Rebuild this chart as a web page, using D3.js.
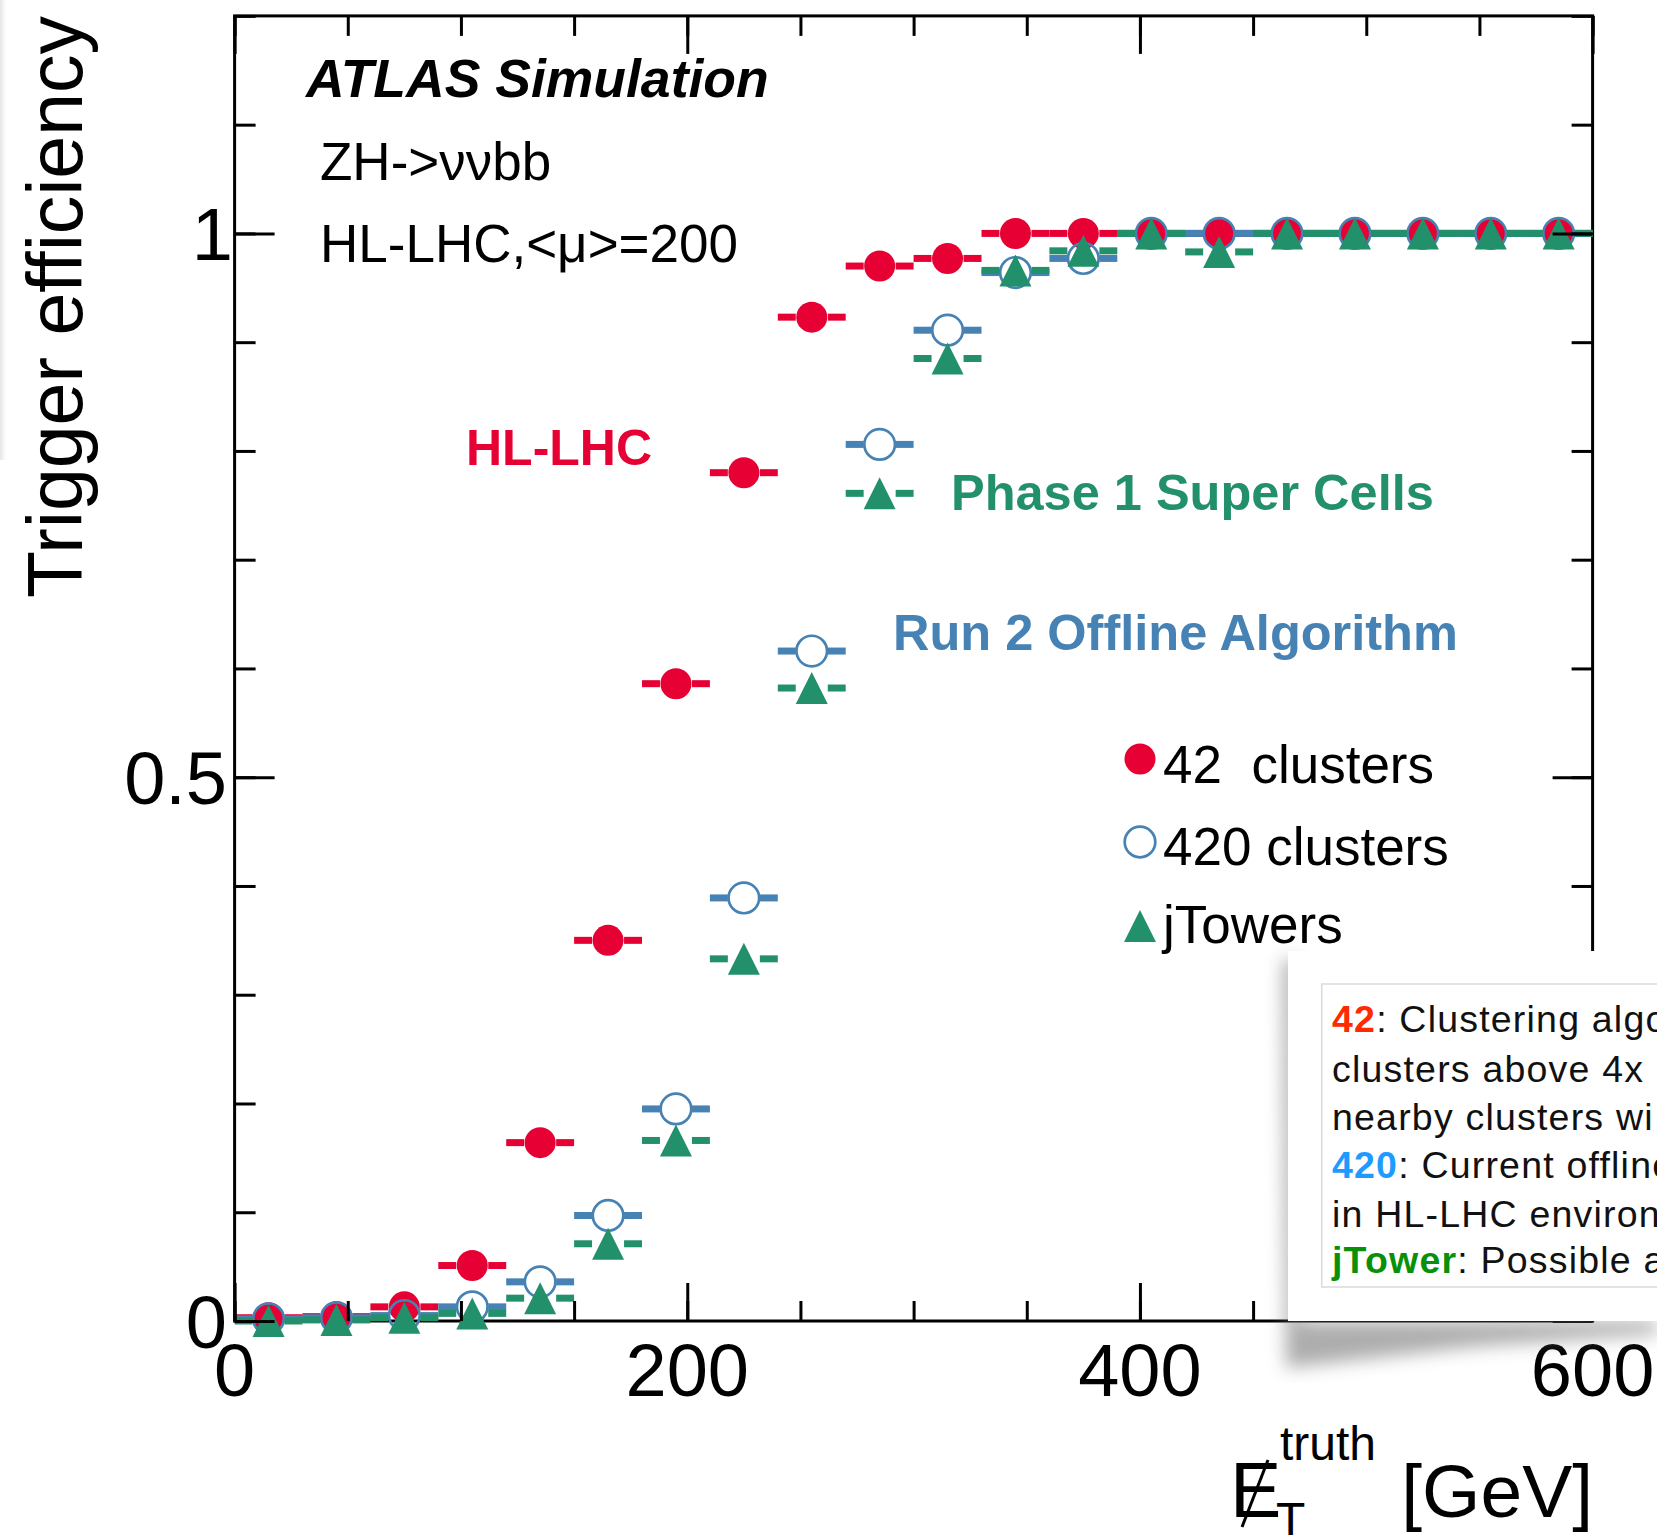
<!DOCTYPE html>
<html><head><meta charset="utf-8">
<script src="https://cdn.jsdelivr.net/npm/d3@7"></script>
<style>
html,body{margin:0;padding:0;background:#fff;}
svg{display:block;}
text{font-family:"Liberation Sans",Arial,Helvetica,sans-serif;}
</style></head><body>
<svg id="c" width="1657" height="1535"></svg>
<script>
// ---------- data ----------
const binCenters = [15,45,75,105,135,165,195,225,255,285,315,345,375,405,435,465,495,525,555,585];
const binHalfWidth = 15;
const eff42      = [0.003,0.004,0.013,0.051,0.164,0.350,0.586,0.780,0.923,0.970,0.977,1,1,1,1,1,1,1,1,1];
const eff420     = [0.002,0.003,0.005,0.013,0.036,0.097,0.195,0.389,0.616,0.806,0.911,0.964,0.977,1,1,1,1,1,1,1];
const effJTower  = [0.000,0.001,0.003,0.007,0.021,0.071,0.166,0.333,0.582,0.761,0.885,0.966,0.984,1,0.983,1,1,1,1,1];
const seriesNames = ["42  clusters","420 clusters","jTowers"];
const xTickLabels = [0,200,400,600];
const yTickLabels = [0,0.5,1];
const xMinorTicks = [0,50,100,150,200,250,300,350,400,450,500,550,600];
const yMinorTicks = [0,0.1,0.2,0.3,0.4,0.5,0.6,0.7,0.8,0.9,1.0,1.1,1.2];
const noteLines = [
  [["42","#ff2a00",true],[": Clustering algo","#111",false]],
  [["clusters above 4x","#111",false]],
  [["nearby clusters wi","#111",false]],
  [["420","#1e9bff",true],[": Current offline","#111",false]],
  [["in HL-LHC environ","#111",false]],
  [["jTower","#089108",true],[": Possible a","#111",false]]
];

// ---------- setup ----------
const RED="#e60033", BLUE="#4682b4", GREEN="#23906c";
const svg = d3.select("#c");
const L=234.6, R=1592.6, T=15.9, B=1321;
const x = d3.scaleLinear().domain([0,600]).range([L,R]);
const y = d3.scaleLinear().domain([0,1.2]).range([B,T]);

const defs = svg.append("defs");
defs.append("filter").attr("id","blur").attr("x","-30%").attr("y","-30%").attr("width","160%").attr("height","160%")
  .append("feGaussianBlur").attr("stdDeviation",9);
const lg = defs.append("linearGradient").attr("id","edge").attr("x1",0).attr("x2",1).attr("y1",0).attr("y2",0);
lg.append("stop").attr("offset",0).attr("stop-color","#e6e6e6");
lg.append("stop").attr("offset",1).attr("stop-color","#ffffff");

// faint left edge strip
svg.append("rect").attr("x",0).attr("y",0).attr("width",6).attr("height",460).attr("fill","url(#edge)");

// frame
svg.append("rect").attr("x",L).attr("y",T).attr("width",R-L).attr("height",B-T)
  .attr("fill","none").attr("stroke","#000").attr("stroke-width",3);

// ---------- data ----------
const gap = 16;
function drawSeries(vals, color, kind){
  const g = svg.append("g");
  const d = binCenters.map((c,i)=>({c, v:vals[i]}));
  g.selectAll("line.l").data(d).enter().append("line")
    .attr("x1",p=>x(p.c-binHalfWidth)).attr("x2",p=>x(p.c)-gap)
    .attr("y1",p=>y(p.v)).attr("y2",p=>y(p.v))
    .attr("stroke",color).attr("stroke-width",7);
  g.selectAll("line.r").data(d).enter().append("line")
    .attr("x1",p=>x(p.c)+gap).attr("x2",p=>x(p.c+binHalfWidth))
    .attr("y1",p=>y(p.v)).attr("y2",p=>y(p.v))
    .attr("stroke",color).attr("stroke-width",7);
  drawMarkers(g, d.map(p=>[x(p.c),y(p.v)]), color, kind);
}
function drawMarkers(g, pts, color, kind){
  if(kind==="full"){
    g.selectAll("circle.m").data(pts).enter().append("circle")
      .attr("cx",p=>p[0]).attr("cy",p=>p[1]).attr("r",15.5).attr("fill",color);
  } else if(kind==="open"){
    g.selectAll("circle.m").data(pts).enter().append("circle")
      .attr("cx",p=>p[0]).attr("cy",p=>p[1]).attr("r",15.3).attr("fill","none")
      .attr("stroke",color).attr("stroke-width",2.7);
  } else {
    g.selectAll("path.m").data(pts).enter().append("path")
      .attr("d",p=>`M${p[0]},${p[1]-16}L${p[0]+16},${p[1]+16}L${p[0]-16},${p[1]+16}Z`)
      .attr("fill",color);
  }
}
drawSeries(eff42, RED, "full");
drawSeries(eff420, BLUE, "open");
drawSeries(effJTower, GREEN, "tri");

// ---------- ticks ----------
function ticks(axisFn, scale, vals, size, transform){
  const g = svg.append("g").attr("transform",transform)
    .call(axisFn(scale).tickValues(vals).tickSize(size).tickFormat(""));
  g.select(".domain").remove();
  g.selectAll(".tick line").attr("stroke","#000").attr("stroke-width",3);
}
ticks(d3.axisBottom, x, xMinorTicks, -20, `translate(0,${B})`);
ticks(d3.axisBottom, x, xTickLabels, -38, `translate(0,${B})`);
ticks(d3.axisTop, x, xMinorTicks, -20, `translate(0,${T})`);
ticks(d3.axisTop, x, xTickLabels, -38, `translate(0,${T})`);
ticks(d3.axisLeft, y, yMinorTicks, -21, `translate(${L},0)`);
ticks(d3.axisLeft, y, yTickLabels, -40, `translate(${L},0)`);
ticks(d3.axisRight, y, yMinorTicks, -21, `translate(${R},0)`);
ticks(d3.axisRight, y, yTickLabels, -40, `translate(${R},0)`);

// tick labels
svg.append("g").selectAll("text").data(xTickLabels).enter().append("text")
  .attr("x",d=>x(d)).attr("y",1396).attr("text-anchor","middle")
  .attr("font-size",74).text(d=>d3.format("")(d));
svg.append("g").selectAll("text").data(yTickLabels).enter().append("text")
  .attr("x",d=>d===1?233:227).attr("y",d=>y(d)+26.5).attr("text-anchor","end")
  .attr("font-size",74).text(d=>String(d));

// axis titles
svg.append("text").attr("transform","translate(82,16) rotate(-90)")
  .attr("text-anchor","end").attr("font-size",77).text("Trigger efficiency");

svg.append("text").attr("x",1230).attr("y",1517).attr("font-size",77).text("E");
svg.append("line").attr("x1",1242).attr("y1",1527).attr("x2",1268).attr("y2",1460)
  .attr("stroke","#000").attr("stroke-width",3);
svg.append("text").attr("x",1280).attr("y",1460).attr("font-size",48).text("truth");
svg.append("text").attr("x",1276).attr("y",1536).attr("font-size",48).text("T");
svg.append("text").attr("x",1593).attr("y",1517).attr("text-anchor","end").attr("font-size",75).text("[GeV]");

// labels
svg.append("text").attr("x",306).attr("y",97).attr("font-size",53.5)
  .attr("font-weight","bold").attr("font-style","italic").text("ATLAS Simulation");
svg.append("text").attr("x",320).attr("y",180).attr("font-size",53).text("ZH->ννbb");
svg.append("text").attr("x",320).attr("y",262).attr("font-size",53).text("HL-LHC,<μ>=200");
svg.append("text").attr("x",466).attr("y",465).attr("font-size",50).attr("font-weight","bold")
  .attr("fill",RED).text("HL-LHC");
svg.append("text").attr("x",951).attr("y",510).attr("font-size",50.5).attr("font-weight","bold")
  .attr("fill",GREEN).text("Phase 1 Super Cells");
svg.append("text").attr("x",893).attr("y",650).attr("font-size",50.5).attr("font-weight","bold")
  .attr("fill",BLUE).text("Run 2 Offline Algorithm");

// legend
const legY = [759, 842, 926];
const legBase = [782.5, 865, 943];
const legKinds = [["full",RED],["open",BLUE],["tri",GREEN]];
legKinds.forEach((k,i)=>{
  drawMarkers(svg.append("g"), [[1140, legY[i]]], k[1], k[0]);
  svg.append("text").attr("x",1163).attr("y",legBase[i]).attr("font-size",53)
    .style("white-space","pre").text(seriesNames[i]);
});

// ---------- note box ----------
svg.append("polygon")
  .attr("points","1283,960 1300,960 1300,1321 1657,1321 1657,1334 1480,1346 1286,1368")
  .attr("fill","#6a6a6a").attr("opacity",0.55).attr("filter","url(#blur)");
svg.append("rect").attr("x",1288).attr("y",951).attr("width",400).attr("height",370).attr("fill","#fff");
svg.append("rect").attr("x",1321.7).attr("y",984).attr("width",400).attr("height",303)
  .attr("fill","none").attr("stroke","#dadada").attr("stroke-width",1.5);
const noteBase = [1031.7,1081.7,1130,1178,1226.7,1273];
noteLines.forEach((ln,i)=>{
  const t = svg.append("text").attr("x",1332).attr("y",noteBase[i]).attr("font-size",37.5)
    .attr("letter-spacing",1.2).style("white-space","pre");
  ln.forEach(s=>{
    t.append("tspan").attr("fill",s[1]).attr("font-weight",s[2]?"bold":"normal").text(s[0]);
  });
});
</script>
</body></html>
